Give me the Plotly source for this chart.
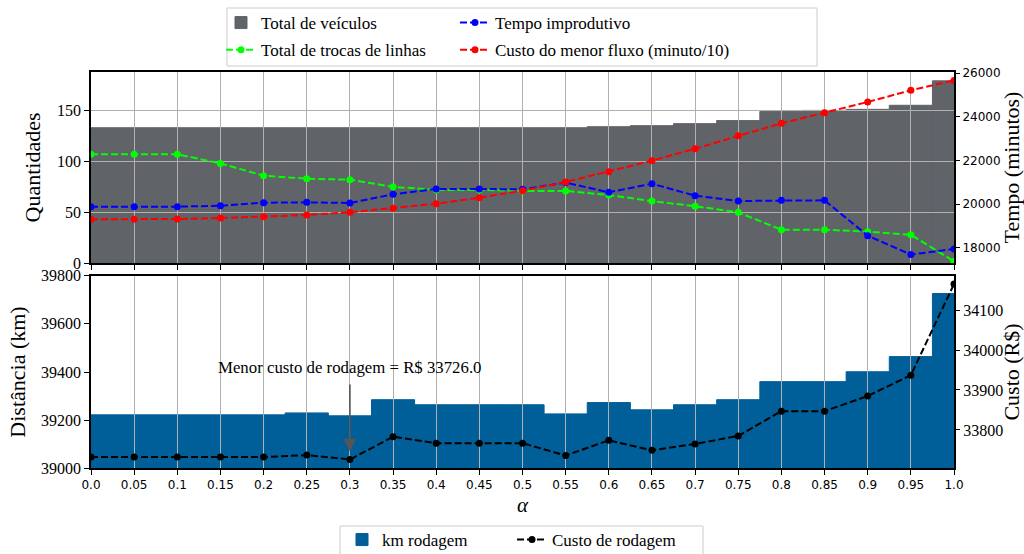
import plotly.graph_objects as go

# ---------------- data ----------------
alpha = [0.0, 0.05, 0.1, 0.15, 0.2, 0.25, 0.3, 0.35, 0.4, 0.45, 0.5,
         0.55, 0.6, 0.65, 0.7, 0.75, 0.8, 0.85, 0.9, 0.95, 1.0]
alpha_labels = ["0.0", "0.05", "0.1", "0.15", "0.2", "0.25", "0.3", "0.35", "0.4", "0.45", "0.5",
                "0.55", "0.6", "0.65", "0.7", "0.75", "0.8", "0.85", "0.9", "0.95", "1.0"]

total_veiculos = [133, 133, 133, 133, 133, 133, 133, 133, 133, 133, 133,
                  133, 134, 135, 137, 140, 149, 150, 151, 155, 179]
trocas_linhas = [107, 107, 107, 98, 86, 83, 82, 75, 72, 72, 71,
                 71, 67, 61, 56, 50, 33, 33, 31, 28, 2]
tempo_improdutivo = [19881, 19881, 19881, 19927, 20064, 20080, 20050, 20450, 20693, 20693, 20679,
                     20985, 20541, 20936, 20385, 20142, 20174, 20174, 18550, 17684, 17940]
custo_menor_fluxo = [19303, 19303, 19316, 19362, 19423, 19500, 19624, 19807, 20018, 20294, 20615,
                     21014, 21486, 21991, 22541, 23138, 23706, 24193, 24683, 25220, 25673]

km_rodagem = [39222, 39222, 39222, 39222, 39222, 39230, 39218, 39285, 39264, 39264, 39264,
              39226, 39273, 39243, 39264, 39285, 39360, 39360, 39401, 39464, 39726]
custo_rodagem = [33732, 33732, 33732, 33732, 33732, 33737, 33726, 33783, 33767, 33767, 33767,
                 33736, 33774, 33749, 33765, 33785, 33847, 33847, 33885, 33937, 34165]

left_top_ticks = [0, 50, 100, 150]
right_top_ticks = [18000, 20000, 22000, 24000, 26000]
left_bot_ticks = [39000, 39200, 39400, 39600, 39800]
right_bot_ticks = [33800, 33900, 34000, 34100]

min_idx = custo_rodagem.index(min(custo_rodagem))
min_text = "Menor custo de rodagem = R$ %.1f" % custo_rodagem[min_idx]

# ---------------- style ----------------
W, H = 1024, 554
SERIF = "Liberation Serif"
SANS = "DejaVu Sans"
GRID = "#b0b0b0"
XD = [91 / W, 954 / W]
YD_TOP = [1 - 263.3 / H, 1 - 71.7 / H]
YD_BOT = [1 - 468.3 / H, 1 - 275.7 / H]
GRAY_BAR = "#606367"
BLUE_BAR = "#005f99"

fig = go.Figure()

# top panel
fig.add_trace(go.Bar(x=alpha, y=total_veiculos, width=0.05, name="Total de veículos",
                     marker=dict(color=GRAY_BAR, line=dict(width=1, color=GRAY_BAR)),
                     xaxis="x", yaxis="y", legend="legend", legendgroup="a"))
fig.add_trace(go.Scatter(x=alpha, y=trocas_linhas, name="Total de trocas de linhas",
                         mode="lines+markers", line=dict(color="#00ff00", width=2, dash="7px,3px"),
                         marker=dict(size=7), xaxis="x2", yaxis="y2", legend="legend", legendgroup="b"))
fig.add_trace(go.Scatter(x=alpha, y=tempo_improdutivo, name="Tempo improdutivo",
                         mode="lines+markers", line=dict(color="#0000ff", width=2, dash="7px,3px"),
                         marker=dict(size=7), xaxis="x2", yaxis="y5", legend="legend2", legendgroup="c"))
fig.add_trace(go.Scatter(x=alpha, y=custo_menor_fluxo, name="Custo do menor fluxo (minuto/10)",
                         mode="lines+markers", line=dict(color="#ff0000", width=2, dash="7px,3px"),
                         marker=dict(size=7), xaxis="x2", yaxis="y5", legend="legend2", legendgroup="d"))

# bottom panel
fig.add_trace(go.Bar(x=alpha, y=km_rodagem, width=0.05, name="km rodagem",
                     marker=dict(color=BLUE_BAR, line=dict(width=1, color=BLUE_BAR)),
                     xaxis="x3", yaxis="y3", legend="legend3"))
fig.add_trace(go.Scatter(x=alpha, y=custo_rodagem, name="Custo de rodagem",
                         mode="lines+markers", line=dict(color="black", width=2, dash="7px,3px"),
                         marker=dict(size=7), xaxis="x4", yaxis="y6", legend="legend3"))

tickfont_serif = dict(family=SERIF, size=16, color="black")
tickfont_sans = dict(family=SANS, size=12, color="black")
titlefont = dict(family=SERIF, size=22, color="black")

frame = dict(showline=True, linecolor="black", linewidth=1.5, mirror=True,
             zeroline=False, showgrid=False, automargin=False)
gridax = dict(showline=False, zeroline=False, showgrid=True, gridcolor=GRID, gridwidth=1,
              showticklabels=False, ticks="", automargin=False)
tickstyle = dict(ticks="outside", ticklen=5, tickwidth=1.2, tickcolor="black")

fig.update_layout(
    width=W, height=H,
    margin=dict(l=0, r=0, t=0, b=0, autoexpand=False),
    paper_bgcolor="white", plot_bgcolor="rgba(0,0,0,0)",
    barmode="overlay",
    # --- top
    xaxis=dict(domain=XD, anchor="y", range=[0, 1], tickmode="array", tickvals=alpha,
               showticklabels=False, **tickstyle, **frame),
    yaxis=dict(domain=YD_TOP, anchor="x", range=[0, 187.95], tickmode="array", tickvals=left_top_ticks,
               tickformat="d", tickfont=tickfont_serif, **tickstyle,
               title=dict(text="Quantidades", font=titlefont, standoff=10), **frame),
    xaxis2=dict(domain=XD, anchor="y2", range=[0, 1], tickmode="array", tickvals=alpha, **gridax),
    yaxis2=dict(domain=YD_TOP, anchor="x2", range=[0, 187.95], tickmode="array",
                tickvals=left_top_ticks, **gridax),
    yaxis5=dict(domain=YD_TOP, overlaying="y2", anchor="x2", side="right", range=[17284, 26073],
                tickmode="array", tickvals=right_top_ticks, tickformat="d", **tickstyle,
                tickfont=tickfont_sans, showgrid=False, zeroline=False, showline=False, automargin=False,
                title=dict(text="Tempo (minutos)", font=titlefont, standoff=8)),
    # --- bottom
    xaxis3=dict(domain=XD, anchor="y3", range=[0, 1], tickmode="array", tickvals=alpha,
                ticktext=alpha_labels, **tickstyle, tickfont=tickfont_sans,
                title=dict(text="<i>α</i>", font=dict(family=SERIF, size=21, color="black"), standoff=6),
                **frame),
    yaxis3=dict(domain=YD_BOT, anchor="x3", range=[39000, 39800], tickmode="array",
                tickvals=left_bot_ticks, tickformat="d", **tickstyle, tickfont=tickfont_serif,
                title=dict(text="Distância (km)", font=titlefont, standoff=9), **frame),
    xaxis4=dict(domain=XD, anchor="y4", range=[0, 1], tickmode="array", tickvals=alpha, **gridax),
    yaxis4=dict(domain=YD_BOT, anchor="x4", range=[39000, 39800], tickmode="array",
                tickvals=left_bot_ticks, **gridax),
    yaxis6=dict(domain=YD_BOT, overlaying="y4", anchor="x4", side="right", range=[33704, 34186],
                tickmode="array", tickvals=right_bot_ticks, tickformat="d", **tickstyle,
                tickfont=tickfont_serif, showgrid=False, zeroline=False, showline=False, automargin=False,
                title=dict(text="Custo (R$)", font=titlefont, standoff=2)),
    # --- legends
    legend=dict(x=221 / W, xanchor="left", y=1 - 5 / H, yanchor="top", bgcolor="rgba(0,0,0,0)",
                borderwidth=0, font=dict(family=SERIF, size=17, color="black"), tracegroupgap=2),
    legend2=dict(x=455 / W, xanchor="left", y=1 - 5 / H, yanchor="top", bgcolor="rgba(0,0,0,0)",
                 borderwidth=0, font=dict(family=SERIF, size=17, color="black"), tracegroupgap=2),
    legend3=dict(x=342 / W, xanchor="left", y=1 - 522 / H, yanchor="top", orientation="h",
                 bgcolor="rgba(0,0,0,0)", borderwidth=0, entrywidth=125,
                 font=dict(family=SERIF, size=17, color="black")),
    shapes=[
        dict(type="rect", xref="paper", yref="paper", x0=227 / W, x1=817 / W,
             y0=1 - 66 / H, y1=1 - 8 / H, line=dict(color="#cccccc", width=1), layer="below"),
        dict(type="rect", xref="paper", yref="paper", x0=340 / W, x1=703 / W,
             y0=-0.02, y1=1 - 526 / H, line=dict(color="#cccccc", width=1), layer="below"),
    ],
    annotations=[
        dict(x=alpha[min_idx], y=custo_rodagem[min_idx], xref="x4", yref="y6", text=min_text,
             showarrow=True, ax=0, ay=-92, arrowcolor="#555555", arrowwidth=1.6, arrowhead=2,
             arrowsize=1.6, standoff=8, startstandoff=6,
             font=dict(family=SERIF, size=16.8, color="black")),
    ],
)

fig.write_html("out.html", config={"displayModeBar": False},
               post_script="document.body.style.margin='0px';document.body.style.overflow='hidden';")
